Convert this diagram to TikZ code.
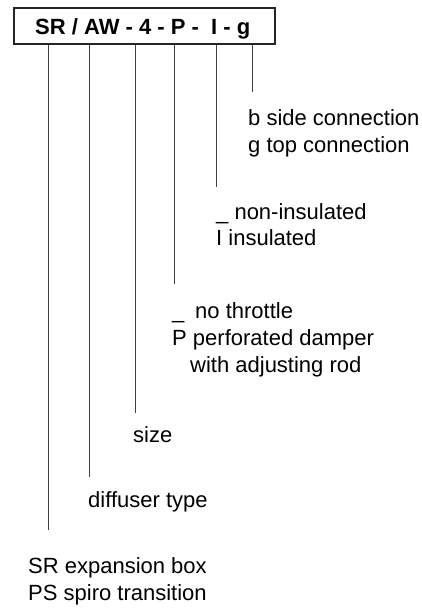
\documentclass[tikz,border=0pt]{standalone}
\usepackage{fontspec}
\setmainfont{Liberation Sans}
\begin{document}
\begin{tikzpicture}[x=1pt,y=-1pt,
  lbl/.style={anchor=base west,inner sep=0pt,font=\fontsize{22}{27}\selectfont},
  lead/.style={line width=0.9pt,draw=black!75},
  codebox/.style={draw=black!85,line width=2pt,inner sep=0pt}]
\useasboundingbox (0,0) rectangle (421,610);
% code box
\node[codebox,minimum width=261.5pt,minimum height=35.5pt] (code) at (144.25,26.25) {};
\node[lbl,font=\fontsize{22}{27}\selectfont\bfseries] (codetext) at (35,35) {SR / AW - 4 - P -\ \ I - g};
% connector start points on box bottom
\coordinate (t1) at (48.5,45);
\coordinate (t2) at (89,45);
\coordinate (t3) at (135.5,45);
\coordinate (t4) at (174,45);
\coordinate (t5) at (216.5,45);
\coordinate (t6) at (252.5,45);
% connector ends
\coordinate (e1) at (48.5,530);
\coordinate (e2) at (89,477);
\coordinate (e3) at (135.5,413);
\coordinate (e4) at (174,284);
\coordinate (e5) at (216.5,187);
\coordinate (e6) at (252.5,92);
\foreach \i in {1,...,6} {\draw[lead] (t\i) -- (e\i);}
% labels
\node[lbl] (g1) at (248,125) {b side connection};
\node[lbl] (g2) at (248,152) {g top connection};
\node[lbl] (i1) at (216,219) {\_ non-insulated};
\node[lbl] (i2) at (216,245) {I insulated};
\node[lbl] (p0) at (172,318) {\_};
\node[lbl] (p1) at (195,318) {no throttle};
\node[lbl] (p2) at (172,345) {P perforated damper};
\node[lbl] (p3) at (190,372) {with adjusting rod};
\node[lbl] (sz) at (133,442) {size};
\node[lbl] (df) at (88,507) {diffuser type};
\node[lbl] (sr1) at (28,573) {SR expansion box};
\node[lbl] (sr2) at (28,600) {PS spiro transition};
\end{tikzpicture}
\end{document}
